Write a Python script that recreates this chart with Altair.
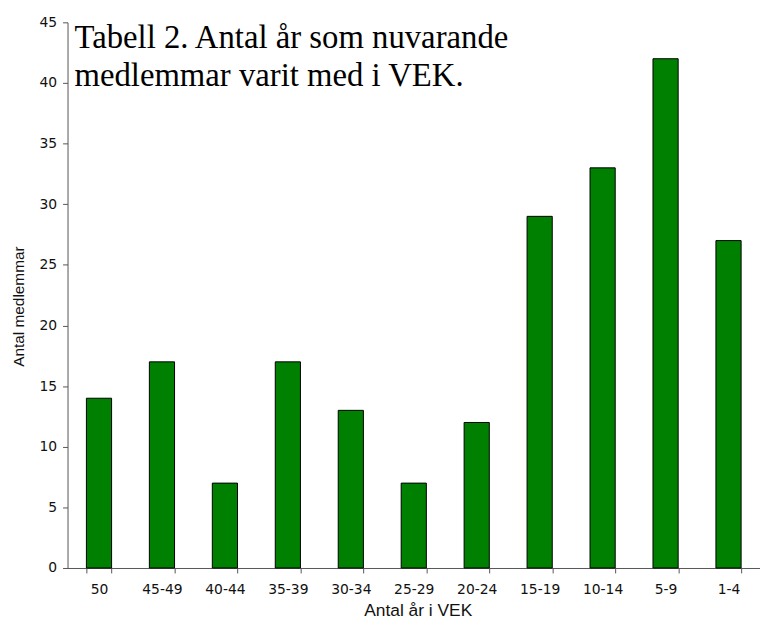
import altair as alt
import pandas as pd

categories = ["50", "45-49", "40-44", "35-39", "30-34", "25-29", "20-24", "15-19", "10-14", "5-9", "1-4"]
members = [14, 17, 7, 17, 13, 7, 12, 29, 33, 42, 27]
title_lines = ["Tabell 2. Antal år som nuvarande", "medlemmar varit med i VEK."]
y_ticks = list(range(0, 46, 5))

df = pd.DataFrame({"cat": categories, "n": members})

x = alt.X(
    "cat:N",
    sort=categories,
    scale=alt.Scale(paddingInner=0.6, paddingOuter=0.3),
    axis=alt.Axis(
        title="Antal år i VEK",
        labelAngle=0,
        tickBand="extent",
        tickSize=5,
        labelPadding=10,
        labelFont="DejaVu Sans",
        labelFontSize=14,
        labelColor="#111",
        titleFont="Liberation Sans",
        titleFontSize=17.5,
        titleFontWeight="normal",
        titleColor="#111",
        titleX=353,
        titleY=48,
        titleBaseline="alphabetic",
        titleAlign="center",
        domainColor="#555",
        tickColor="#555",
        grid=False,
    ),
)

y = alt.Y(
    "n:Q",
    scale=alt.Scale(domain=[0, 45], nice=False),
    axis=alt.Axis(
        title="Antal medlemmar",
        values=y_ticks,
        tickSize=5,
        labelPadding=6,
        labelFont="DejaVu Sans",
        labelFontSize=14,
        labelColor="#111",
        titleFont="Liberation Sans",
        titleFontSize=15.5,
        titleFontWeight="normal",
        titleColor="#111",
        titleX=-44,
        titleY=286,
        titleBaseline="alphabetic",
        titleAlign="center",
        titleAngle=-90,
        domainColor="#555",
        tickColor="#555",
        grid=False,
    ),
)

bars = alt.Chart(df).mark_bar(color="#008000", stroke="#000", strokeWidth=1).encode(x=x, y=y)

title_df = pd.DataFrame({"t": [title_lines]})
title = alt.Chart(title_df).mark_text(
    align="left",
    baseline="alphabetic",
    font="Liberation Serif",
    fontSize=33,
    lineHeight=38.5,
    color="#000",
).encode(x=alt.value(7), y=alt.value(26), text="t")

chart = (
    alt.layer(bars, title)
    .properties(
        width=698,
        height=550,
        autosize=alt.AutoSizeParams(type="none"),
        padding={"left": 60, "top": 12, "right": 0, "bottom": 54},
    )
    .configure_view(stroke=None)
)

chart.save("out.html", embed_options={"renderer": "svg", "actions": False})
